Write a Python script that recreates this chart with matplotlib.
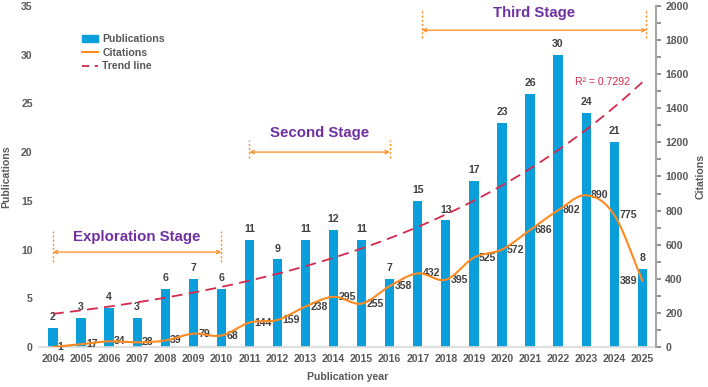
import numpy as np
import matplotlib
matplotlib.use("Agg")
import matplotlib.pyplot as plt
from matplotlib.patches import Patch
from matplotlib.lines import Line2D

plt.rcParams['font.family'] = ['Liberation Sans', 'DejaVu Sans']

years = list(range(2004, 2026))
publications = [2, 3, 4, 3, 6, 7, 6, 11, 9, 11, 12, 11, 7, 15, 13, 17, 23, 26, 30, 24, 21, 8]
citations = [1, 17, 34, 28, 39, 79, 68, 144, 159, 238, 295, 255, 358, 432, 395, 525, 572, 686, 802, 890, 775, 389]

stages = ["Exploration Stage", "Second Stage", "Third Stage"]
stage_ranges = [(2004, 2010), (2011, 2016), (2017, 2025)]

BAR = '#0A9FDB'
ORANGE = '#FF8A1F'
RED = '#D42A4C'
PURPLE = '#7030A0'
GRAY = '#595959'
DARK = '#404040'
FS = 7.6

fig = plt.figure(figsize=(7.08, 3.87), dpi=100)
ax = fig.add_axes([0.055, 0.103, 0.872, 0.882])
ax2 = ax.twinx()

x = np.arange(len(years))
ax.bar(x, publications, width=0.33, color=BAR, zorder=2)
for xi, p in zip(x, publications):
    ax.text(xi, p + 0.6, str(p), ha='center', va='bottom', fontsize=FS,
            fontweight='bold', color=DARK)

# exponential trend line fitted to publications
coef = np.polyfit(x, np.log(publications), 1)
xs = np.linspace(0, len(x) - 1, 200)
trend_s = np.exp(np.polyval(coef, xs))
ax.plot(xs, trend_s, color=RED, lw=1.3, dashes=(6, 3.5), zorder=3)
ax.text(19.6, 27.2, "R² = 0.7292", color=RED, fontsize=FS, ha='center', va='center')

# smooth citations (Catmull-Rom)
def catmull(xp, yp, n=20):
    xp = np.asarray(xp, float); yp = np.asarray(yp, float)
    P = np.column_stack([xp, yp])
    P = np.vstack([P[0] - (P[1] - P[0]), P, P[-1] + (P[-1] - P[-2])])
    out = []
    for i in range(1, len(P) - 2):
        p0, p1, p2, p3 = P[i - 1], P[i], P[i + 1], P[i + 2]
        t = np.linspace(0, 1, n, endpoint=False)[:, None]
        seg = 0.5 * ((2 * p1) + (-p0 + p2) * t + (2 * p0 - 5 * p1 + 4 * p2 - p3) * t ** 2
                     + (-p0 + 3 * p1 - 3 * p2 + p3) * t ** 3)
        out.append(seg)
    out.append(P[-2][None, :])
    out = np.vstack(out)
    return out[:, 0], out[:, 1]

cx, cy = catmull(x, citations)
ax2.plot(cx, cy, color=ORANGE, lw=1.5, zorder=4)
for xi, c in zip(x, citations):
    if xi == len(x) - 1:
        ax2.annotate(str(c), (xi, c), xytext=(-3.5, 0), textcoords='offset points',
                     ha='right', va='center', fontsize=FS, fontweight='bold', color=DARK)
    else:
        ax2.annotate(str(c), (xi, c), xytext=(3.5, 0), textcoords='offset points',
                     ha='left', va='center', fontsize=FS, fontweight='bold', color=DARK)

# stage annotations
stage_y = [(9.75, 11.3, 8.7, 11.9), (20.0, 22.0, 19.4, 21.2), (32.5, 34.3, 31.7, 34.6)]
for name, (a, b), (ya, yt, y0, y1) in zip(stages, stage_ranges, stage_y):
    xa, xb = a - years[0], b - years[0]
    if name == "Third Stage":
        xb += 0.15
        xa += 0.15
    ax.annotate('', xy=(xb, ya), xytext=(xa, ya),
                arrowprops=dict(arrowstyle='<->', color=ORANGE, lw=0.9,
                                mutation_scale=6, shrinkA=0, shrinkB=0))
    for xv in (xa, xb):
        ax.plot([xv, xv], [y0, y1], color=ORANGE, lw=1.0, ls=(0, (1.5, 1.5)))
    ax.text((xa + xb) / 2, yt, name, color=PURPLE, fontsize=10.8, fontweight='bold',
            ha='center', va='center')

ax.set_xlim(-0.5, len(x) - 0.5)
ax.set_ylim(0, 35)
ax2.set_ylim(0, 2000)
ax.set_yticks(range(0, 36, 5))
ax2.set_yticks(range(0, 2001, 200))
ax2.set_yticks(range(100, 2000, 200), minor=True)
ax.set_xticks(x)
ax.set_xticklabels([str(y) for y in years])

for a in (ax, ax2):
    for s in ('top', 'left', 'right'):
        a.spines[s].set_visible(False)
    a.spines['bottom'].set_color('#D9D9D9')
    a.spines['bottom'].set_linewidth(1.2)
ax2.spines['right'].set_visible(True)
ax2.spines['right'].set_color('#A6A6A6')
ax2.spines['right'].set_linewidth(1.5)
ax2.spines['bottom'].set_visible(False)

ax.tick_params(axis='x', length=0, pad=5, labelsize=FS, labelcolor=GRAY)
ax.tick_params(axis='y', length=0, pad=4.5, labelsize=FS, labelcolor=GRAY)
ax2.tick_params(axis='y', which='major', length=3.5, width=1.2, direction='out',
                color='#7F7F7F', pad=3, labelsize=FS, labelcolor=GRAY)
ax2.tick_params(axis='y', which='minor', length=3.5, width=1.2, direction='out',
                color='#7F7F7F')
for lab in ax.get_xticklabels() + ax.get_yticklabels() + ax2.get_yticklabels():
    lab.set_fontweight('bold')

ax.set_xlabel('Publication year', fontsize=FS, fontweight='bold', color=GRAY, labelpad=6)
ax.set_ylabel('Publications', fontsize=FS, fontweight='bold', color=GRAY, labelpad=7)
ax2.set_ylabel('Citations', fontsize=FS, fontweight='bold', color=GRAY, labelpad=5)

handles = [Patch(color=BAR), Line2D([], [], color=ORANGE, lw=1.5),
           Line2D([], [], color=RED, lw=1.3, dashes=(4, 3))]
leg = ax.legend(handles, ['Publications', 'Citations', 'Trend line'], loc='upper left',
                bbox_to_anchor=(0.055, 0.945), frameon=False, fontsize=FS,
                handlelength=1.5, handletextpad=0.4, labelspacing=0.35)
for t in leg.get_texts():
    t.set_fontweight('bold'); t.set_color(GRAY)

fig.savefig('out.png', dpi=100)
